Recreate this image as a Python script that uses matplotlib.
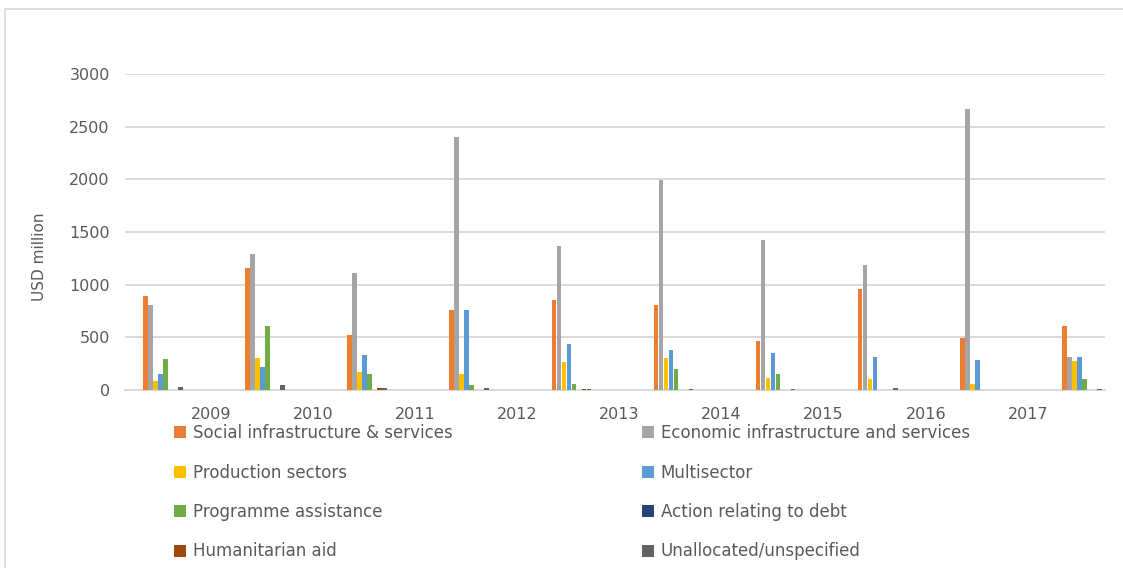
import numpy as np
import matplotlib
matplotlib.use("Agg")
import matplotlib.pyplot as plt
from matplotlib.patches import Rectangle, Patch

# one group of bars per position, year labels sit between the groups as in the source
years = ["2009", "2010", "2011", "2012", "2013", "2014", "2015", "2016", "2017"]

series = ["Social infrastructure & services", "Economic infrastructure and services",
          "Production sectors", "Multisector", "Programme assistance",
          "Action relating to debt", "Humanitarian aid", "Unallocated/unspecified"]
colors = ["#ED7D31", "#A5A5A5", "#FFC000", "#5B9BD5", "#70AD47", "#264478", "#9E480E", "#636363"]

social = [895, 1155, 519, 763, 854, 807, 465, 959, 491, 608]
economic = [807, 1288, 1111, 2400, 1367, 1994, 1424, 1187, 2670, 310]
production = [85, 304, 174, 149, 266, 307, 114, 101, 60, 275]
multisector = [149, 218, 329, 763, 440, 380, 351, 316, 288, 310]
programme = [294, 608, 149, 44, 57, 199, 155, 0, 0, 101]
debt = [0, 0, 0, 0, 0, 0, 0, 0, 0, 0]
humanitarian = [0, 0, 20, 0, 12, 0, 0, 0, 0, 0]
unallocated = [28, 50, 20, 15, 12, 12, 12, 20, 0, 12]

values = [social, economic, production, multisector, programme, debt, humanitarian, unallocated]

txt = "#595959"
grid = "#D9D9D9"

fig = plt.figure(figsize=(11.23, 5.68), dpi=100)
fig.patches.append(Rectangle((5 / 1123, -0.1), 1.2, (568 - 9) / 568 + 0.1,
                             transform=fig.transFigure, fill=False,
                             edgecolor=grid, linewidth=1.2))

ax = fig.add_axes([125 / 1123, (568 - 390) / 568, (1105 - 125) / 1123, (390 - 74) / 568])

x = np.arange(len(social))
step = 0.049
w = 0.044
handles = []
for k, (vals, c) in enumerate(zip(values, colors)):
    ax.bar(x + (k - 3.5) * step, vals, width=w, color=c, zorder=3)
    handles.append(Patch(facecolor=c))

ax.set_xlim(-0.37, 9.225)
ax.set_ylim(0, 3000)
ax.set_yticks(range(0, 3001, 500))
ax.set_xticks(np.arange(len(years)) + 0.47)
ax.set_xticklabels(years)
ax.yaxis.grid(True, color=grid, linewidth=1.4, zorder=0)
ax.set_axisbelow(True)
for s in ["top", "right", "left"]:
    ax.spines[s].set_visible(False)
ax.spines["bottom"].set_color(grid)
ax.spines["bottom"].set_linewidth(1.4)
ax.tick_params(axis="both", length=0, labelsize=11.5, labelcolor=txt)
ax.tick_params(axis="x", pad=12)
ax.tick_params(axis="y", pad=11)
fig.text(40 / 1123, 1 - 257 / 568, "USD million", rotation=90, ha="center", va="center",
         fontsize=11, color=txt)

leg_kw = dict(loc="upper left", frameon=False, fontsize=12, labelcolor=txt,
              handlelength=0.7, handleheight=0.7, handletextpad=0.42,
              labelspacing=1.29, borderaxespad=0, borderpad=0)
fig.legend(handles[0::2], series[0::2], bbox_to_anchor=(174 / 1123, 1 - 424 / 568), **leg_kw)
fig.legend(handles[1::2], series[1::2], bbox_to_anchor=(642 / 1123, 1 - 424 / 568), **leg_kw)

fig.savefig("out.png", dpi=100)
